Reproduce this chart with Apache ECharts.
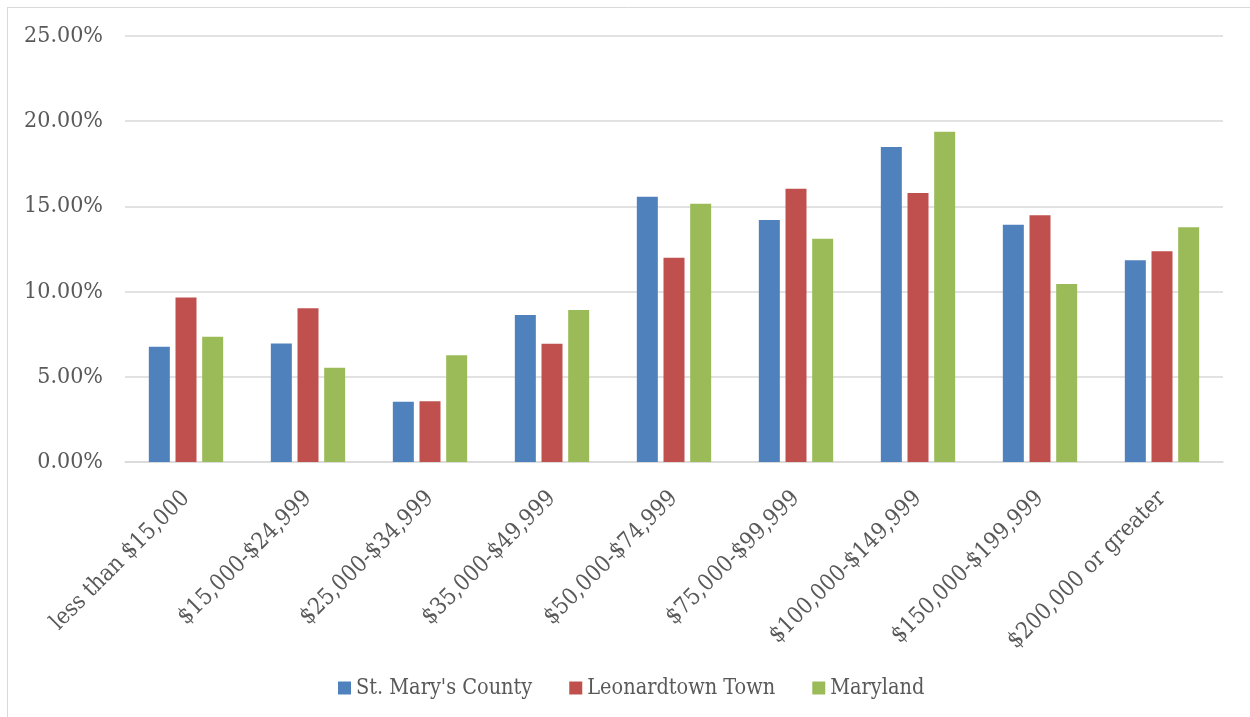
<!DOCTYPE html>
<html>
<head>
<meta charset="utf-8">
<script src="https://cdn.jsdelivr.net/npm/echarts@6/dist/echarts.min.js"></script>
<style>
html,body{margin:0;padding:0;background:#fff;}
#chart{width:1250px;height:717px;}
</style>
</head>
<body>
<div id="chart"></div>
<script>
const categories = ['less than $15,000', '$15,000-$24,999', '$25,000-$34,999', '$35,000-$49,999', '$50,000-$74,999', '$75,000-$99,999', '$100,000-$149,999', '$150,000-$199,999', '$200,000 or greater'];
const seriesNames = ["St. Mary's County", 'Leonardtown Town', 'Maryland'];
const stMarys = [6.76, 6.96, 3.54, 8.63, 15.57, 14.20, 18.49, 13.92, 11.84];
const leonardtown = [9.65, 9.03, 3.56, 6.94, 11.98, 16.04, 15.78, 14.48, 12.37];
const maryland = [7.35, 5.53, 6.26, 8.92, 15.15, 13.10, 19.38, 10.45, 13.78];
const colors = ['#4F81BD', '#C0504D', '#9BBB59'];

const FONT = "'DejaVu Serif Condensed', 'DejaVu Serif', serif";
const chart = echarts.init(document.getElementById('chart'));
const mk = (name, data, color) => ({
  name, type: 'bar', data, barWidth: 21, barGap: '27%',
  itemStyle: { color }
});
chart.setOption({
  animation: false,
  backgroundColor: '#fff',
  color: colors,
  graphic: [
    { type: 'line', shape: { x1: 7, y1: 7.5, x2: 1250, y2: 7.5 }, style: { stroke: '#d9d9d9', lineWidth: 1 } },
    { type: 'line', shape: { x1: 7.5, y1: 7, x2: 7.5, y2: 717 }, style: { stroke: '#d9d9d9', lineWidth: 1 } }
  ],
  grid: { left: 125, right: 27, top: 36, bottom: 255, containLabel: false },
  legend: {
    left: 333, top: 672,
    itemWidth: 13, itemHeight: 13, itemGap: 37,
    icon: 'rect',
    textStyle: { fontFamily: FONT, fontSize: 21.5, color: '#595959' },
    data: seriesNames
  },
  xAxis: {
    type: 'category', data: categories,
    axisLine: { lineStyle: { color: '#d9d9d9', width: 1.5 } },
    axisTick: { show: false },
    axisLabel: { rotate: 45, interval: 0, margin: 33, fontFamily: FONT, fontSize: 23, color: '#595959' }
  },
  yAxis: {
    type: 'value', min: 0, max: 25, interval: 5,
    axisLine: { show: false }, axisTick: { show: false },
    splitLine: { lineStyle: { color: '#d9d9d9', width: 1.5 } },
    axisLabel: { margin: 22, fontFamily: FONT, fontSize: 23, color: '#595959', formatter: v => v.toFixed(2) + '%' }
  },
  series: [
    mk(seriesNames[0], stMarys, colors[0]),
    mk(seriesNames[1], leonardtown, colors[1]),
    mk(seriesNames[2], maryland, colors[2])
  ]
});
</script>
</body>
</html>
